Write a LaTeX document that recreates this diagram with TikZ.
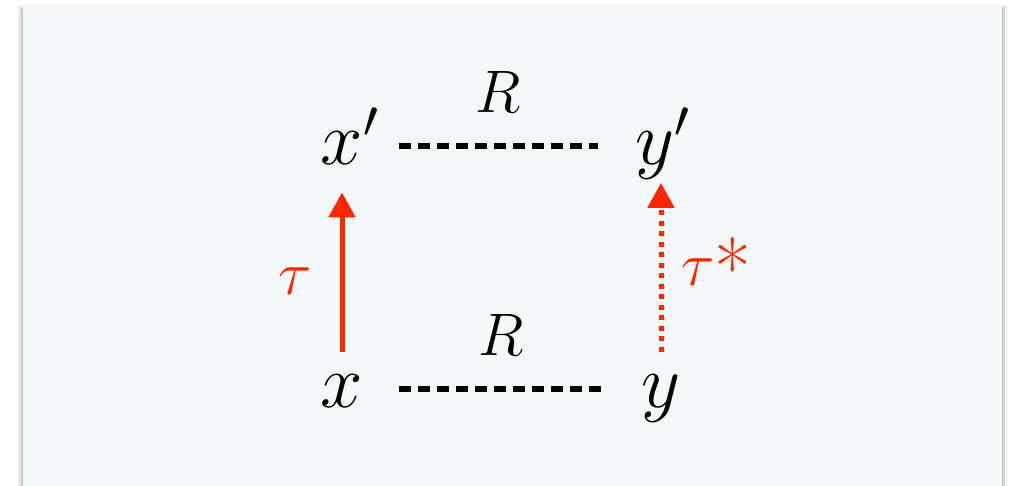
\RequirePackage{fix-cm}
\documentclass[tikz,border=0pt]{standalone}
\usetikzlibrary{positioning,arrows.meta}
\definecolor{tauRed}{RGB}{255,38,0}
\definecolor{panelBg}{RGB}{245,248,249}

\begin{document}
\begin{tikzpicture}[x=0.5pt,y=0.5pt, corner/.style={inner sep=0pt,minimum width=57pt,minimum height=36.75pt,text height=22.8pt,text depth=3.8pt,font=\fontsize{38}{42}\selectfont}, rel/.style={line width=3pt,dash pattern=on 6pt off 3.5pt}, lbl/.style={inner sep=0pt,font=\fontsize{30}{34}\selectfont}, tau/.style={inner sep=0pt,text=tauRed,font=\fontsize{31}{34}\selectfont}, arr/.style={-{Triangle[width=13pt,length=12.5pt]},line width=2.5pt,draw=tauRed}]
\useasboundingbox (0,0) rectangle (1009,486);
% panel and its soft shadow
\foreach \s/\o in {1/0.08,2/0.06,3/0.05,4/0.04,5/0.03,6/0.02}
  \fill[black,opacity=\o] (23-\s,476+\s) rectangle (1002+\s,-20);
\fill[panelBg] (23,480) rectangle (1002,-20);
% corners of the square
\node[corner] (x) at (342,97.25) {$x$};
\node[corner] (y) at (661,97.25) {$y$};
\node[corner] (xp) at (342,340.25) {$x$\rlap{$'$}};
\node[corner] (yp) at (655,340.25) {$y$\rlap{$'$}};
% relations
\draw[rel] (x) -- node[lbl,above=15pt] (rb) {$R$} (y);
\draw[rel] (xp) -- node[lbl,above=15pt] (rt) {$R$} (yp);
% maps
\draw[arr,shorten >=4.75pt] (x) -- node[tau,pos=0.42,left=14pt] (t) {$\tau$} (xp);
\draw[arr,dash pattern=on 2.5pt off 2.75pt] (y) -- node[tau,midway,right=9pt] (ts) {$\tau$\raisebox{-6pt}{\fontsize{40}{42}\selectfont*}} (y |- yp.south);
\end{tikzpicture}
\end{document}
